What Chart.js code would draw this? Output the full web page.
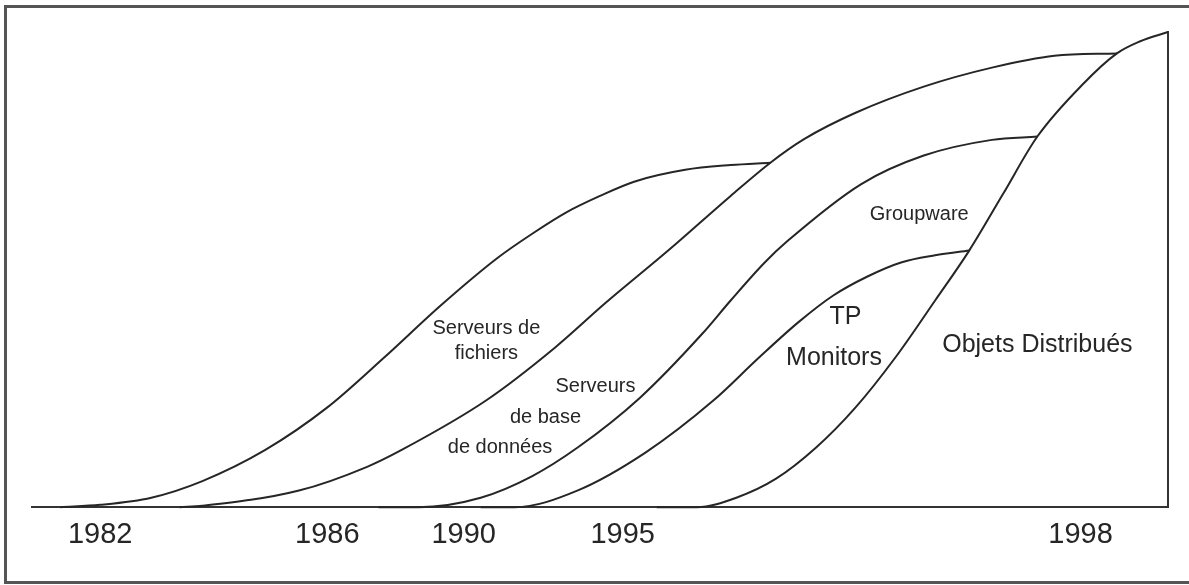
<!DOCTYPE html>
<html>
<head>
<meta charset="utf-8">
<script src="https://cdn.jsdelivr.net/npm/chart.js@4.4.1/dist/chart.umd.min.js"></script>
<style>
	body { margin: 0; background: #fff; }
	#wrap { width: 1189px; height: 585px; position: relative; }
</style>
</head>
<body>
<div id="wrap"><canvas id="courbes"></canvas></div>
<script>
	// :: 1.0 Données (x: position sur l'axe du temps 0-100, y: adoption 0-100)
	var fichiersX = [2.5, 6, 10.5, 15, 20.5, 26, 31, 36, 41, 44, 47, 50, 53, 57.5, 61.5, 65];
	var fichiersY = [0, 0.5, 2, 5.5, 12, 21, 31.5, 42.5, 52.5, 57.5, 62, 65.5, 68.5, 71, 72, 72.5];

	var baseX = [13, 15, 23.5, 29.5, 32.5, 40, 46, 50.5, 56, 61.5, 65, 68, 72.5, 78.5, 84.5, 90, 95.5];
	var baseY = [0, 0.3, 3.5, 8.5, 12, 22.5, 33.5, 43, 54, 65.5, 72.5, 77.5, 83, 88.5, 92.5, 95, 95.5];

	var groupwareX = [30.5, 34, 39.5, 44, 48, 53.5, 59, 61.5, 64.5, 66.5, 73, 78.5, 84.5, 88.5];
	var groupwareY = [0, 0, 2, 6.5, 12.5, 23, 36.5, 43.5, 51.5, 56, 68, 74, 77.3, 78];

	var tpX = [39.5, 42.5, 48, 54, 60, 64, 67.5, 70.5, 73.5, 76.5, 79.5, 82.5];
	var tpY = [0, 0, 3.5, 11.5, 22.5, 31.5, 39, 44.5, 48.5, 51.5, 53, 54];

	var objetsX = [55, 58.5, 62, 65.5, 69, 72.5, 76, 79.5, 82.5, 85.5, 88.5, 92.5, 95.5, 97.5, 100];
	var objetsY = [0, 0, 2, 6, 12.5, 21, 31.5, 43.5, 54, 66, 78, 89, 95.5, 98, 100];

	var tickPos = [6, 26, 38, 52, 92.3];
	var tickLabels = ['1982', '1986', '1990', '1995', '1998'];

	// :: 2.0 Libellés dans les zones (unités des axes)
	var notes = [
		{ lines: ['Serveurs de', 'fichiers'], x: 40, y: 37.7, size: 20, gap: 25 },
		{ lines: ['Serveurs'], x: 49.6, y: 25.3, size: 20 },
		{ lines: ['de base'], x: 45.2, y: 18.9, size: 20 },
		{ lines: ['de données'], x: 41.2, y: 12.6, size: 20 },
		{ lines: ['Groupware'], x: 78.1, y: 61.5, size: 20 },
		{ lines: ['TP'], x: 71.6, y: 40, size: 25 },
		{ lines: ['Monitors'], x: 70.6, y: 31.4, size: 25 },
		{ lines: ['Objets Distribués'], x: 88.5, y: 34.1, size: 25 }
	];

	var INK = '#262626';
	var FONT = "'Liberation Sans', Arial, sans-serif";

	function serie(xs, ys) {
		return xs.map(function (x, i) { return { x: x, y: ys[i] }; });
	}

	function courbe(label, xs, ys) {
		return {
			label: label,
			data: serie(xs, ys),
			borderColor: INK,
			borderWidth: 2,
			pointRadius: 0,
			fill: false,
			cubicInterpolationMode: 'monotone',
			clip: 4
		};
	}

	var cadre = {
		id: 'cadre',
		beforeDraw: function (chart) {
			var ctx = chart.ctx;
			ctx.save();
			ctx.fillStyle = '#fff';
			ctx.fillRect(0, 0, chart.width, chart.height);
			ctx.strokeStyle = '#555';
			ctx.lineWidth = 3;
			ctx.beginPath();
			ctx.moveTo(chart.width + 5, 6.5);
			ctx.lineTo(5.5, 6.5);
			ctx.lineTo(5.5, 582.5);
			ctx.lineTo(chart.width + 5, 582.5);
			ctx.stroke();
			ctx.restore();
		},
		afterDatasetsDraw: function (chart) {
			var ctx = chart.ctx;
			var sx = chart.scales.x, sy = chart.scales.y;
			ctx.save();
			ctx.fillStyle = INK;
			ctx.textAlign = 'center';
			ctx.textBaseline = 'middle';
			notes.forEach(function (n) {
				ctx.font = n.size + 'px ' + FONT;
				var px = sx.getPixelForValue(n.x);
				var py = sy.getPixelForValue(n.y);
				n.lines.forEach(function (t, i) {
					ctx.fillText(t, px, py + i * (n.gap || 0));
				});
			});
			ctx.restore();
		}
	};

	new Chart(document.getElementById('courbes'), {
		type: 'line',
		data: {
			datasets: [
				courbe('Serveurs de fichiers', fichiersX, fichiersY),
				courbe('Serveurs de base de données', baseX, baseY),
				courbe('Groupware', groupwareX, groupwareY),
				courbe('TP Monitors', tpX, tpY),
				courbe('Objets Distribués', objetsX, objetsY)
			]
		},
		options: {
			responsive: true,
			maintainAspectRatio: false,
			animation: false,
			layout: { padding: { left: 32, right: 21, top: 32, bottom: 23 } },
			plugins: {
				legend: { display: false },
				tooltip: { enabled: false }
			},
			scales: {
				x: {
					type: 'linear',
					min: 0,
					max: 100,
					grid: { display: false, drawTicks: false },
					border: { display: true, color: '#333', width: 2 },
					afterBuildTicks: function (scale) {
						scale.ticks = tickPos.map(function (v) { return { value: v }; });
					},
					ticks: {
						autoSkip: false,
						maxRotation: 0,
						padding: 10,
						color: INK,
						font: { family: FONT, size: 29 },
						callback: function (value, index) { return tickLabels[index]; }
					}
				},
				y: {
					type: 'linear',
					position: 'right',
					min: 0,
					max: 100,
					grid: { display: false, drawTicks: false },
					border: { display: true, color: '#333', width: 2 },
					ticks: { display: false }
				}
			}
		},
		plugins: [cadre]
	});
</script>
</body>
</html>
